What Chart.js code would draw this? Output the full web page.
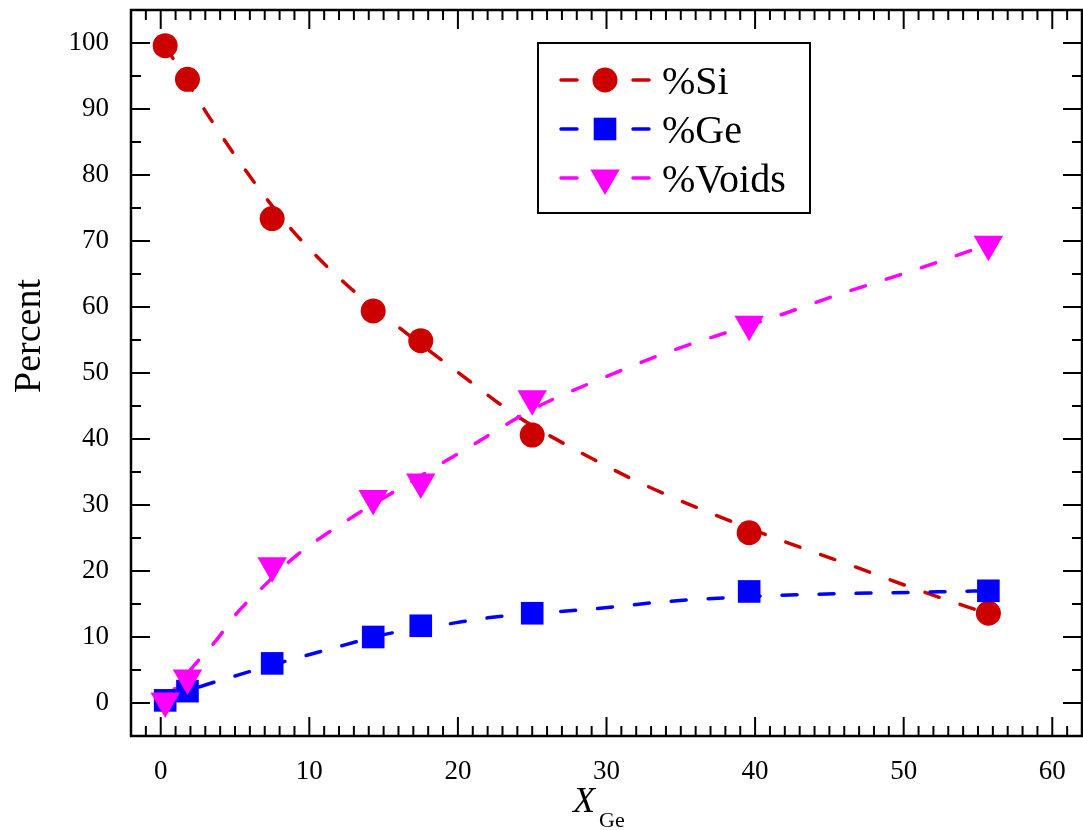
<!DOCTYPE html>
<html>
<head>
<meta charset="utf-8">
<title>Si / Ge / voids vs X_Ge</title>
<script src="https://cdn.jsdelivr.net/npm/chart.js@4/dist/chart.umd.min.js"></script>
<style>
  html, body { margin: 0; padding: 0; background: #fff; }
  #chart { display: block; }
</style>
</head>
<body>
<canvas id="chart" width="1083" height="830"></canvas>
<script>
const FONT = "'Liberation Serif', 'Times New Roman', serif";

// measured points (x = X_Ge)
const xGe = [0.3, 1.8, 7.5, 14.3, 17.5, 25.0, 39.6, 55.7];
const siPct = [99.6, 94.5, 73.4, 59.4, 54.9, 40.6, 25.8, 13.6];
const gePct = [0.4, 1.8, 6.0, 10.0, 11.7, 13.6, 16.9, 17.0];
const voidPct = [0.3, 3.8, 20.8, 31.0, 33.5, 46.1, 57.4, 69.5];

// dashed fit curves
const siFitX = [0.3, 3.2, 6.0, 8.9, 12.4, 16.1, 20.0, 24.1, 28.3, 32.7, 37.2, 41.8, 46.4, 51.0, 55.7];
const siFitY = [99.6, 89.0, 79.8, 71.5, 63.6, 56.8, 50.1, 43.3, 37.9, 32.9, 28.6, 24.6, 20.9, 17.1, 13.5];
const geFitX = [0.3, 2.3, 5.3, 8.2, 12.4, 15.1, 19.7, 22.0, 29.3, 34.2, 41.5, 46.5, 51.4, 55.7];
const geFitY = [0.4, 2.2, 4.3, 6.2, 8.8, 10.4, 12.1, 12.9, 14.3, 15.4, 16.3, 16.6, 16.8, 17.0];
const voidFitX = [0.3, 2.1, 3.7, 5.2, 6.8, 9.0, 12.5, 16.9, 21.0, 25.2, 29.7, 34.3, 41.2, 45.9, 50.6, 55.7];
const voidFitY = [0.4, 5.3, 9.4, 13.8, 17.4, 22.1, 27.6, 33.6, 39.1, 44.7, 49.2, 53.3, 58.4, 62.1, 65.5, 69.5];

const xTickLabels = [0, 10, 20, 30, 40, 50, 60];
const yTickLabels = [0, 10, 20, 30, 40, 50, 60, 70, 80, 90, 100];

const RED = "#cc0000";
const BLUE = "#0000ff";
const MAGENTA = "#ff00ff";

const pairs = (xs, ys) => xs.map((x, i) => ({ x: x, y: ys[i] }));

const fitLine = (xs, ys, color, order) => ({
  type: "line",
  label: "fit",
  data: pairs(xs, ys),
  borderColor: color,
  borderWidth: 3.5,
  borderDash: [15, 22],
  borderCapStyle: "round",
  pointRadius: 0,
  cubicInterpolationMode: "monotone",
  fill: false,
  order: order,
});

const markers = (label, ys, color, style, radius, rotation, order) => ({
  type: "scatter",
  label: label,
  data: pairs(xGe, ys),
  showLine: false,
  backgroundColor: color,
  borderColor: color,
  borderWidth: 0,
  pointStyle: style,
  pointRadius: radius,
  pointHoverRadius: radius,
  pointRotation: rotation,
  order: order,
});

const datasets = [
  markers("%Si", siPct, RED, "circle", 12.5, 0, 3),
  markers("%Ge", gePct, BLUE, "rect", 16, 0, 2),
  markers("%Voids", voidPct, MAGENTA, "triangle", 17, 180, 1),
  fitLine(siFitX, siFitY, RED, 6),
  fitLine(geFitX, geFitY, BLUE, 5),
  fitLine(voidFitX, voidFitY, MAGENTA, 4),
];

function line(ctx, x1, y1, x2, y2) {
  ctx.beginPath();
  ctx.moveTo(x1, y1);
  ctx.lineTo(x2, y2);
  ctx.stroke();
}

// box, inward ticks on all four sides, axis titles
const framePlugin = {
  id: "frame",
  beforeDraw(chart) {
    const ctx = chart.ctx;
    ctx.save();
    ctx.fillStyle = "#fff";
    ctx.fillRect(0, 0, chart.width, chart.height);
    ctx.restore();
  },
  afterDraw(chart) {
    const { ctx, chartArea: a } = chart;
    const xs = chart.scales.x;
    const ys = chart.scales.y;
    ctx.save();
    ctx.strokeStyle = "#000";
    ctx.lineWidth = 2;

    const xMinor = [];
    for (let v = Math.ceil(xs.min) + 1; v < xs.max; v++) if (v % 10 !== 0) xMinor.push(v);
    const yMinor = [];
    for (let v = 5; v < 100; v += 10) yMinor.push(v);

    const xt = (vals, len) => vals.forEach((v) => {
      const p = xs.getPixelForValue(v);
      line(ctx, p, a.bottom, p, a.bottom - len);
      line(ctx, p, a.top, p, a.top + len);
    });
    const yt = (vals, len) => vals.forEach((v) => {
      const p = ys.getPixelForValue(v);
      line(ctx, a.left, p, a.left + len, p);
      line(ctx, a.right, p, a.right - len, p);
    });
    xt(xTickLabels, 19);
    xt(xMinor, 10);
    yt(yTickLabels, 19);
    yt(yMinor, 10);

    ctx.lineWidth = 2.5;
    ctx.strokeRect(a.left, a.top, a.right - a.left, a.bottom - a.top);

    // axis titles
    ctx.fillStyle = "#000";
    ctx.textAlign = "left";
    ctx.textBaseline = "alphabetic";
    const cx = (a.left + a.right) / 2;
    ctx.font = "italic 36px " + FONT;
    ctx.fillText("X", cx - 33.5, a.bottom + 76);
    const w = ctx.measureText("X").width;
    ctx.font = "22px " + FONT;
    ctx.fillText("Ge", cx - 33.5 + w + 4, a.bottom + 91);

    ctx.translate(40, a.top + 326);
    ctx.rotate(-Math.PI / 2);
    ctx.textAlign = "center";
    ctx.font = "38px " + FONT;
    ctx.fillText("Percent", 0, 0);
    ctx.restore();
  },
};

// legend in the box: dash - marker - dash, then label
const legendPlugin = {
  id: "boxLegend",
  afterDraw(chart) {
    const { ctx, chartArea: a } = chart;
    const bx = a.left + 407, by = a.top + 33, bw = 272, bh = 170;
    ctx.save();
    ctx.fillStyle = "#fff";
    ctx.fillRect(bx, by, bw, bh);
    ctx.strokeStyle = "#000";
    ctx.lineWidth = 2;
    ctx.strokeRect(bx, by, bw, bh);

    const rows = [70, 119, 168];
    [0, 1, 2].forEach((i) => {
      const ds = chart.data.datasets[i];
      const y = a.top + rows[i];
      const mx = bx + 67;
      ctx.strokeStyle = ds.borderColor;
      ctx.lineWidth = 3.5;
      ctx.lineCap = "round";
      line(ctx, bx + 23, y, bx + 39, y);
      line(ctx, bx + 95, y, bx + 111, y);
      ctx.fillStyle = ds.backgroundColor;
      Chart.helpers.drawPoint(ctx, {
        pointStyle: ds.pointStyle,
        radius: ds.pointRadius,
        rotation: ds.pointRotation,
        borderWidth: 0,
      }, mx, y);
      ctx.fillStyle = "#000";
      ctx.font = "40px " + FONT;
      ctx.textAlign = "left";
      ctx.textBaseline = "alphabetic";
      ctx.fillText(ds.label, bx + 124, y + 14);
    });
    ctx.restore();
  },
};

new Chart(document.getElementById("chart").getContext("2d"), {
  type: "scatter",
  data: { datasets: datasets },
  options: {
    responsive: false,
    animation: false,
    layout: { autoPadding: false, padding: { top: 10, right: 1, left: 0, bottom: 0 } },
    plugins: { legend: { display: false }, tooltip: { enabled: false } },
    scales: {
      x: {
        type: "linear",
        min: -2,
        max: 62,
        grid: { display: false, drawTicks: false },
        border: { display: false },
        afterBuildTicks: (s) => { s.ticks = xTickLabels.map((v) => ({ value: v })); },
        afterFit: (s) => { s.height = 94; s.paddingLeft = 0; s.paddingRight = 0; },
        ticks: { color: "#000", font: { family: FONT, size: 27 }, padding: 20, maxRotation: 0 },
      },
      y: {
        type: "linear",
        min: -5,
        max: 105,
        grid: { display: false, drawTicks: false },
        border: { display: false },
        afterBuildTicks: (s) => { s.ticks = yTickLabels.map((v) => ({ value: v })); },
        afterFit: (s) => { s.width = 131; s.paddingTop = 0; s.paddingBottom = 0; },
        ticks: { color: "#000", font: { family: FONT, size: 27 }, padding: 22 },
      },
    },
  },
  plugins: [framePlugin, legendPlugin],
});
</script>
</body>
</html>
